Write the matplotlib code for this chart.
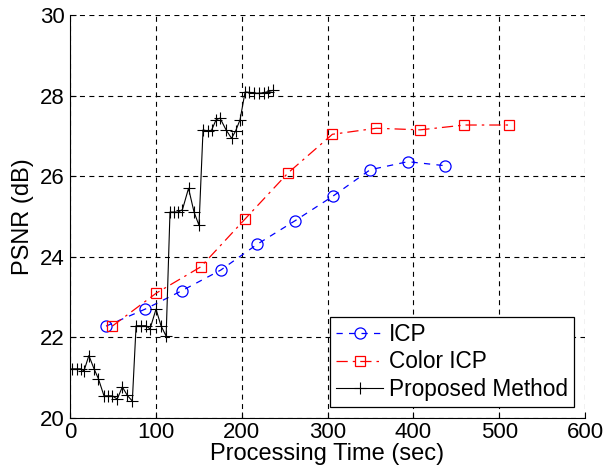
import matplotlib
matplotlib.use("Agg")
import matplotlib.pyplot as plt

# ICP
icp_t = [42, 87.4, 130.5, 175.6, 218, 262.6, 306, 349.7, 393.6, 437]
icp_psnr = [22.28, 22.70, 23.16, 23.67, 24.31, 24.90, 25.50, 26.16, 26.36, 26.26]

# Color ICP
cicp_t = [49.3, 100.6, 152.3, 203.6, 254, 305.7, 357, 408, 459.6, 511]
cicp_psnr = [22.28, 23.10, 23.75, 24.93, 26.08, 27.04, 27.19, 27.15, 27.27, 27.27]

# Proposed Method
prop_t = [2, 7.8, 12.4, 16.3, 22, 28, 33, 39.6, 43.9, 49.3, 55, 61, 66.8, 72.6,
          77, 82.8, 88.6, 93.2, 100.2, 106, 112,
          116.5, 121.2, 125.9, 131, 138.1, 144.5, 150.3,
          155, 160.8, 164.9, 170.2, 174.8, 181.8, 188.2, 192.9, 198.1,
          204, 209, 214.5, 220, 225.5, 231, 236.5]
prop_psnr = [21.22, 21.22, 21.22, 21.17, 21.55, 21.22, 20.98, 20.55, 20.55, 20.55, 20.47, 20.77, 20.56, 20.42,
             22.29, 22.29, 22.29, 22.21, 22.70, 22.29, 22.03,
             25.11, 25.11, 25.11, 25.17, 25.70, 25.11, 24.78,
             27.15, 27.12, 27.14, 27.40, 27.44, 27.15, 26.94, 27.12, 27.40,
             28.09, 28.08, 28.06, 28.06, 28.07, 28.10, 28.13]

xticks = [0, 100, 200, 300, 400, 500, 600]
yticks = [20, 22, 24, 26, 28, 30]

plt.rcParams['font.family'] = ['Liberation Sans', 'DejaVu Sans']
fs_tick = 16
fs_label = 17
fs_leg = 16.3

fig = plt.figure(figsize=(6.05, 4.76), dpi=100)
ax = fig.add_axes([70/605, 1-418/476, 515/605, 403/476])

ax.plot(icp_t, icp_psnr, color='#0000ff', linestyle=(0, (5, 5)), linewidth=0.9,
        marker='o', markersize=8, markerfacecolor='none', markeredgecolor='#0000ff',
        markeredgewidth=0.9, label='ICP')
ax.plot(cicp_t, cicp_psnr, color='#ff0000', linestyle=(0, (9, 4, 2, 4)), linewidth=0.9,
        marker='s', markersize=7.5, markerfacecolor='none', markeredgecolor='#ff0000',
        markeredgewidth=0.9, label='Color ICP')
ax.plot(prop_t, prop_psnr, color='black', linestyle='-', linewidth=0.8,
        marker='+', markersize=8, markeredgewidth=0.8, label='Proposed Method')

ax.set_xlim(0, 600)
ax.set_ylim(20, 30)
ax.set_xticks(xticks)
ax.set_yticks(yticks)
ax.grid(True, color='black', linestyle=(0, (4.5, 4)), linewidth=0.8)
ax.tick_params(direction='in', length=4, labelsize=fs_tick)
ax.tick_params(axis='x', pad=3)
ax.tick_params(axis='y', pad=4)
ax.spines['top'].set_visible(False)
ax.spines['right'].set_visible(False)
for s in ('left', 'bottom'):
    ax.spines[s].set_linewidth(0.8)

ax.set_xlabel('Processing Time (sec)', fontsize=fs_label, labelpad=0)
ax.set_ylabel('PSNR (dB)', fontsize=fs_label, labelpad=4)

leg = ax.legend(loc='lower right', fontsize=fs_leg, frameon=True, fancybox=False,
                edgecolor='black', framealpha=1, borderpad=0.25, labelspacing=0.2,
                handlelength=2.1, handletextpad=0.25, borderaxespad=0.5)
leg.get_frame().set_linewidth(0.9)

fig.savefig('out.png', dpi=100)
